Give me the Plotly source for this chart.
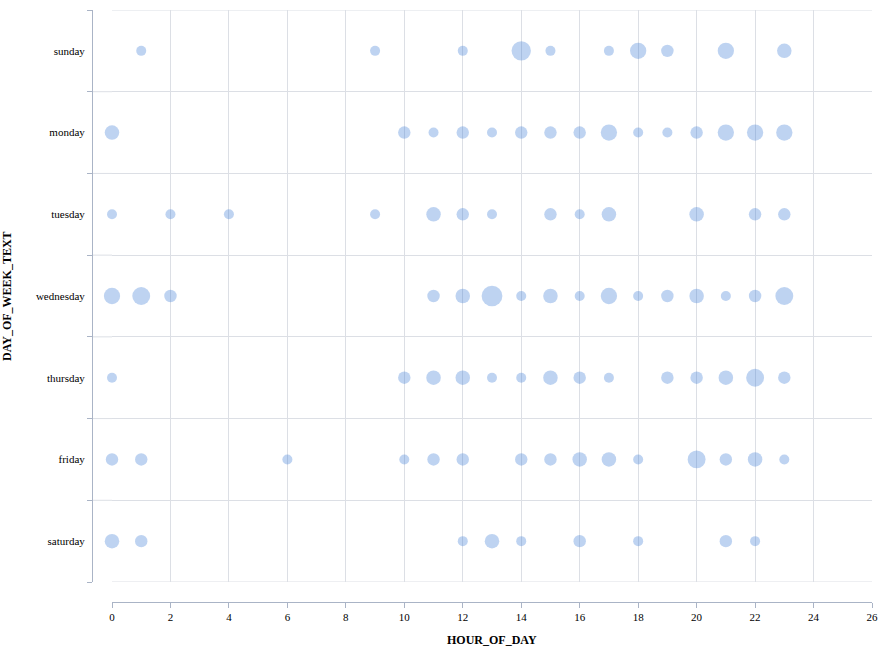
import plotly.graph_objects as go

days = ["sunday", "monday", "tuesday", "wednesday", "thursday", "friday", "saturday"]

hours_sunday = [1, 9, 12, 14, 15, 17, 18, 19, 21, 23]
counts_sunday = [1, 1, 1, 6, 1, 1, 4, 2, 4, 3]

hours_monday = [0, 10, 11, 12, 13, 14, 15, 16, 17, 18, 19, 20, 21, 22, 23]
counts_monday = [3, 2, 1, 2, 1, 2, 2, 2, 4, 1, 1, 2, 4, 4, 4]

hours_tuesday = [0, 2, 4, 9, 11, 12, 13, 15, 16, 17, 20, 22, 23]
counts_tuesday = [1, 1, 1, 1, 3, 2, 1, 2, 1, 3, 3, 2, 2]

hours_wednesday = [0, 1, 2, 11, 12, 13, 14, 15, 16, 17, 18, 19, 20, 21, 22, 23]
counts_wednesday = [4, 5, 2, 2, 3, 7, 1, 3, 1, 4, 1, 2, 3, 1, 2, 5]

hours_thursday = [0, 10, 11, 12, 13, 14, 15, 16, 17, 19, 20, 21, 22, 23]
counts_thursday = [1, 2, 3, 3, 1, 1, 3, 2, 1, 2, 2, 3, 5, 2]

hours_friday = [0, 1, 6, 10, 11, 12, 14, 15, 16, 17, 18, 20, 21, 22, 23]
counts_friday = [2, 2, 1, 1, 2, 2, 2, 2, 3, 3, 1, 5, 2, 3, 1]

hours_saturday = [0, 1, 12, 13, 14, 16, 18, 21, 22]
counts_saturday = [3, 2, 1, 3, 1, 2, 1, 2, 1]

x_ticks = list(range(0, 27, 2))

data = {
    "sunday": (hours_sunday, counts_sunday),
    "monday": (hours_monday, counts_monday),
    "tuesday": (hours_tuesday, counts_tuesday),
    "wednesday": (hours_wednesday, counts_wednesday),
    "thursday": (hours_thursday, counts_thursday),
    "friday": (hours_friday, counts_friday),
    "saturday": (hours_saturday, counts_saturday),
}

xs, ys, cs = [], [], []
for d in days:
    h, c = data[d]
    xs += h
    ys += [d] * len(h)
    cs += c

# diameter from area mapping
sizes = [(45 + 55 * c) ** 0.5 for c in cs]

fig = go.Figure()
fig.add_trace(go.Scatter(
    x=xs, y=ys, mode="markers", cliponaxis=False,
    marker=dict(size=sizes, sizemode="diameter", color="rgba(70,130,215,0.5)",
                line=dict(width=0)),
    hoverinfo="x+y",
))

W, H = 883, 654
L, R, T, B = 92, 11, 10, 52
pw = W - L - R
ph = H - T - B
off = 20

axis_col = "#aab4c6"
grid_col = "#dcdfe5"
font = dict(family="Liberation Serif", size=11, color="#000")

fig.update_layout(
    width=W, height=H,
    margin=dict(l=L, r=R, t=T, b=B, pad=0, autoexpand=False),
    paper_bgcolor="white", plot_bgcolor="white",
    showlegend=False,
    font=font,
    xaxis=dict(
        domain=[off / pw, 1], range=[0, 26], tickvals=x_ticks,
        anchor="free", position=0, automargin=False,
        showline=True, linecolor=axis_col, linewidth=1,
        ticks="outside", ticklen=5, tickcolor=axis_col,
        showgrid=True, gridcolor=grid_col, gridwidth=1,
        zeroline=False, tickfont=font,
    ),
    yaxis=dict(
        domain=[off / ph, 1], type="category",
        categoryarray=days[::-1], categoryorder="array",
        range=[-0.5, 6.5],
        anchor="free", position=0, automargin=False,
        showline=True, linecolor=axis_col, linewidth=1,
        ticks="outside", ticklen=5, tickcolor=axis_col,
        tickson="boundaries", ticklabelstandoff=5,
        showgrid=True, gridcolor=grid_col, gridwidth=1,
        zeroline=False, tickfont=font,
    ),
)

shapes = []
for k in range(6):
    shapes.append(dict(type="line", xref="paper", yref="y", x0=0, x1=off / pw,
                       y0=k + 0.5, y1=k + 0.5, line=dict(color=grid_col, width=1),
                       layer="below"))
shapes.append(dict(type="line", xref="paper", yref="y", x0=off / pw, x1=1,
                   y0=6.5, y1=6.5, line=dict(color=grid_col, width=1), layer="below"))
shapes.append(dict(type="line", xref="paper", yref="y", x0=off / pw, x1=1,
                   y0=-0.5, y1=-0.5, line=dict(color=grid_col, width=1), layer="below"))
fig.update_layout(shapes=shapes)

title_font = dict(family="Liberation Serif", size=12, color="#000", weight="bold")
fig.add_annotation(text="HOUR_OF_DAY", xref="paper", yref="paper",
                   x=(492 - L) / pw, y=(H - B - 640) / ph,
                   xanchor="center", yanchor="middle", showarrow=False, font=title_font)
fig.add_annotation(text="DAY_OF_WEEK_TEXT", xref="paper", yref="paper",
                   x=(7 - L) / pw, y=(H - B - 296) / ph, textangle=-90,
                   xanchor="center", yanchor="middle", showarrow=False, font=title_font)

fig.write_html("out.html")
